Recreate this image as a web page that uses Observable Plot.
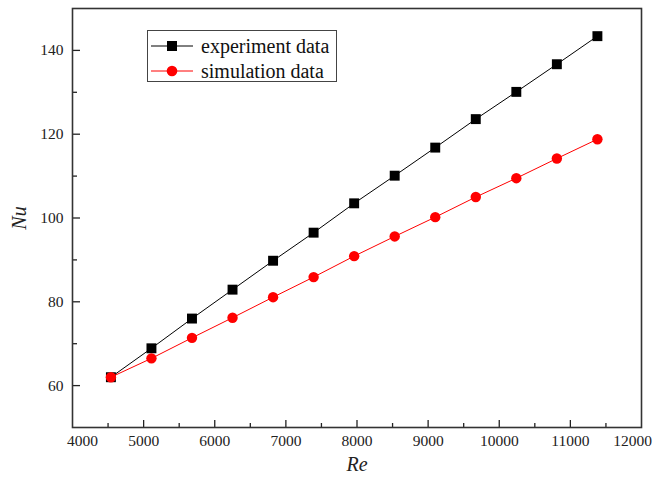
<!DOCTYPE html>
<html><head><meta charset="utf-8">
<script src="https://cdn.jsdelivr.net/npm/d3@7"></script>
<script src="https://cdn.jsdelivr.net/npm/@observablehq/plot@0.6"></script>
<style>
body{margin:0;background:#fff;}
#wrap{position:relative;width:672px;height:478px;font-family:"Liberation Serif","Times New Roman",serif;}
#wrap svg{display:block;font-family:"Liberation Serif","Times New Roman",serif;}
#wrap svg text{font-family:"Liberation Serif","Times New Roman",serif;}
g[aria-label="x-axis label"] text, g[aria-label="y-axis label"] text{font-style:italic;font-size:20px;}
#legend{position:absolute;left:147px;top:30px;width:190px;height:52px;border:1px solid #444;box-sizing:border-box;background:#fff;}
#legend .row{position:absolute;left:0;height:26px;display:flex;align-items:center;font-size:20px;color:#111;white-space:nowrap;}
#legend svg{margin-left:3px;margin-right:8px;}
</style></head><body><div id="wrap"></div>
<script>
const re = [4540,5110,5680,6250,6820,7390,7960,8530,9100,9670,10240,10810,11380];
const nuExperiment = [62.0,68.9,76.0,82.9,89.8,96.5,103.5,110.1,116.8,123.6,130.1,136.7,143.4];
const nuSimulation = [62.0,66.5,71.4,76.2,81.1,85.9,90.9,95.6,100.2,105.0,109.5,114.2,118.8];
const seriesNames = ["experiment data","simulation data"];
const seriesColors = ["#000000","#ff0000"];
const xMajorTicks = [5000,6000,7000,8000,9000,10000,11000];
const xFirstTick = [4000];
const xLastTick = [12000];
const xMinorTicks = [4500,5500,6500,7500,8500,9500,10500,11500];
const yMajorTicks = [60,80,100,120,140];
const yMinorTicks = [70,90,110,130];

const expData = re.map((x,i)=>({x, y: nuExperiment[i]}));
const simData = re.map((x,i)=>({x, y: nuSimulation[i]}));
const fmt = d => String(d);

const plot = Plot.plot({
  width: 672, height: 478,
  marginLeft: 72, marginRight: 31, marginTop: 8, marginBottom: 51,
  style: {fontFamily: "'Liberation Serif', serif", fontSize: "15.5px", background: "#fff", color: "#222"},
  x: {domain: [4000, 12000]},
  y: {domain: [50, 150]},
  marks: [
    Plot.axisX(xMajorTicks, {tickSize: -7, tickPadding: 14, tickFormat: fmt, label: null, strokeWidth: 1.3}),
    Plot.axisX(xFirstTick, {tickSize: 0, tickPadding: 7, tickFormat: fmt, dx: 10, label: null}),
    Plot.axisX(xLastTick, {tickSize: 0, tickPadding: 7, tickFormat: fmt, dx: -9, label: null}),
    Plot.axisX(xMinorTicks, {tickSize: -4, text: null, label: null, strokeWidth: 1.3}),
    Plot.axisX({ticks: [], label: "Re", labelAnchor: "center", labelArrow: "none", labelOffset: 43, dx: -3}),
    Plot.axisY(yMajorTicks, {tickSize: -8, tickPadding: 17, tickFormat: fmt, label: null, strokeWidth: 1.3}),
    Plot.axisY(yMinorTicks, {tickSize: -5, text: null, label: null, strokeWidth: 1.3}),
    Plot.axisY({ticks: [], label: "Nu", labelAnchor: "center", labelArrow: "none", labelOffset: 61, dy: 15}),
    Plot.frame({stroke: "#333", strokeWidth: 1.6}),
    Plot.line(expData, {x: "x", y: "y", stroke: seriesColors[0], strokeWidth: 1}),
    Plot.dot(expData, {x: "x", y: "y", symbol: "square", r: 5.6, fill: seriesColors[0]}),
    Plot.line(simData, {x: "x", y: "y", stroke: seriesColors[1], strokeWidth: 1}),
    Plot.dot(simData, {x: "x", y: "y", symbol: "circle", r: 5.2, fill: seriesColors[1]})
  ]
});
const wrap = document.getElementById("wrap");
wrap.appendChild(plot);

// legend
const legend = document.createElement("div");
legend.id = "legend";
seriesNames.forEach((name, i) => {
  const row = document.createElement("div");
  row.className = "row";
  row.style.top = (i === 0 ? 2 : 27) + "px";
  const sw = d3.create("svg").attr("width", 42).attr("height", 14);
  sw.append("line").attr("x1", 0).attr("x2", 42).attr("y1", 7).attr("y2", 7).attr("stroke", seriesColors[i]).attr("stroke-width", 1);
  if (i === 0) sw.append("rect").attr("x", 16).attr("y", 2).attr("width", 10).attr("height", 10).attr("fill", seriesColors[i]);
  else sw.append("circle").attr("cx", 21).attr("cy", 7).attr("r", 5.3).attr("fill", seriesColors[i]);
  row.appendChild(sw.node());
  const t = document.createElement("span");
  t.textContent = name;
  row.appendChild(t);
  legend.appendChild(row);
});
wrap.appendChild(legend);
</script></body></html>
